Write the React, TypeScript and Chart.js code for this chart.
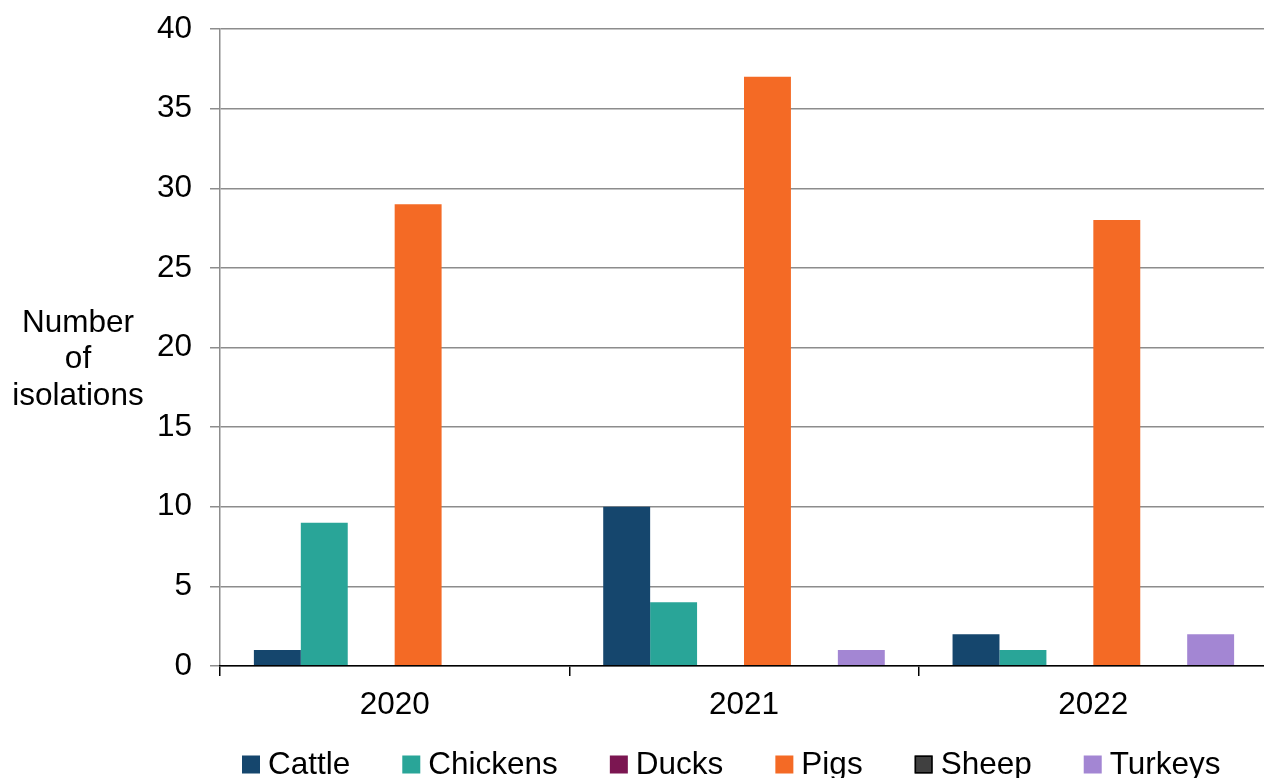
import { useEffect, useRef } from "react";
import { Chart, registerables } from "chart.js";

Chart.register(...registerables);

// Isolations per species and year
const years = ["2020", "2021", "2022"];
const cattle = [1, 10, 2];
const chickens = [9, 4, 1];
const ducks = [0, 0, 0];
const pigs = [29, 37, 28];
const sheep = [0, 0, 0];
const turkeys = [0, 1, 2];

const yMin = 0;
const yMax = 40;
const yStep = 5;
const yTitleLines = ["Number", "of", "isolations"];

const FONT = "'Liberation Sans', Arial, Helvetica, sans-serif";
const FONT_SIZE = 31.5;
const GRID_GREY = "#8c8c8c";

const CANVAS_W = 1270;
const CANVAS_H = 790;

// Multi-line horizontal y-axis title on the left
const yTitlePlugin = {
  id: "yTitle",
  afterDraw(chart: any) {
    const { ctx, chartArea } = chart;
    const midY = (chartArea.top + chartArea.bottom) / 2;
    ctx.save();
    ctx.font = `${FONT_SIZE}px ${FONT}`;
    ctx.fillStyle = "#000";
    ctx.textAlign = "center";
    ctx.textBaseline = "alphabetic";
    yTitleLines.forEach((line, i) => {
      ctx.fillText(line, 78, midY - 16 + i * 36.5);
    });
    ctx.restore();
  },
};

// Legend row below the x axis: square swatch, small gap, label
const legendPlugin = {
  id: "bottomLegend",
  afterDraw(chart: any) {
    const { ctx, chartArea } = chart;
    const box = 18;
    const textGap = 8;
    const itemGap = 52;
    const boxTop = 755.5;
    const baseline = 774;
    let x = chartArea.left + 22;
    ctx.save();
    ctx.font = `${FONT_SIZE}px ${FONT}`;
    ctx.textAlign = "left";
    ctx.textBaseline = "alphabetic";
    chart.data.datasets.forEach((ds: any) => {
      ctx.fillStyle = ds.backgroundColor;
      ctx.fillRect(x, boxTop, box, box);
      if (ds.legendStroke) {
        ctx.strokeStyle = ds.legendStroke;
        ctx.lineWidth = 1.5;
        ctx.strokeRect(x + 0.75, boxTop + 0.75, box - 1.5, box - 1.5);
      }
      ctx.fillStyle = "#000";
      const tx = x + box + textGap;
      ctx.fillText(ds.label, tx, baseline);
      x = tx + ctx.measureText(ds.label).width + itemGap;
    });
    ctx.restore();
  },
};

export default function App() {
  const canvasRef = useRef<HTMLCanvasElement | null>(null);

  useEffect(() => {
    const canvas = canvasRef.current;
    if (!canvas) return;
    Chart.defaults.font.family = FONT;
    Chart.defaults.font.size = FONT_SIZE;
    Chart.defaults.color = "#000";

    const bar = (label: string, data: number[], color: string, legendStroke?: string) => ({
      label,
      data,
      backgroundColor: color,
      borderWidth: 0,
      categoryPercentage: 0.806,
      barPercentage: 1,
      legendStroke,
    });

    const chart = new Chart(canvas, {
      type: "bar",
      data: {
        labels: years,
        datasets: [
          bar("Cattle", cattle, "#15466d"),
          bar("Chickens", chickens, "#29a598"),
          bar("Ducks", ducks, "#7b1651"),
          bar("Pigs", pigs, "#f46a25"),
          bar("Sheep", sheep, "#404040", "#000"),
          bar("Turkeys", turkeys, "#a386d3"),
        ] as any,
      },
      options: {
        responsive: false,
        animation: false,
        devicePixelRatio: 1,
        layout: { padding: { top: 29, right: 2, bottom: 0, left: 0 } },
        plugins: {
          legend: { display: false },
          tooltip: { enabled: false },
        },
        scales: {
          x: {
            grid: {
              display: true,
              drawOnChartArea: false,
              drawTicks: true,
              tickLength: 10,
              color: "#000",
              lineWidth: 1.5,
              offset: true,
            },
            border: { display: true, color: "#000", width: 1.5, z: 1 },
            ticks: {
              padding: 10,
              color: "#000",
              font: { size: FONT_SIZE, family: FONT },
              maxRotation: 0,
            },
            afterFit(scale: any) {
              scale.height = CANVAS_H - 666;
              scale.paddingLeft = 0;
              scale.paddingRight = 0;
            },
          },
          y: {
            min: yMin,
            max: yMax,
            grid: {
              color: GRID_GREY,
              lineWidth: 1.5,
              drawTicks: true,
              tickLength: 10,
            },
            border: { display: true, color: GRID_GREY, width: 1.5 },
            ticks: {
              stepSize: yStep,
              padding: 18,
              color: "#000",
              font: { size: FONT_SIZE, family: FONT },
            },
            afterFit(scale: any) {
              scale.width = 220;
              scale.paddingTop = 0;
              scale.paddingBottom = 0;
            },
          },
        },
      } as any,
      plugins: [yTitlePlugin, legendPlugin],
    });

    return () => chart.destroy();
  }, []);

  return (
    <div
      style={{
        position: "fixed",
        left: 0,
        top: 0,
        width: "100vw",
        height: "100vh",
        overflow: "hidden",
        background: "#fff",
      }}
    >
      <canvas
        ref={canvasRef}
        width={CANVAS_W}
        height={CANVAS_H}
        style={{ display: "block", width: CANVAS_W, height: CANVAS_H }}
      />
    </div>
  );
}
